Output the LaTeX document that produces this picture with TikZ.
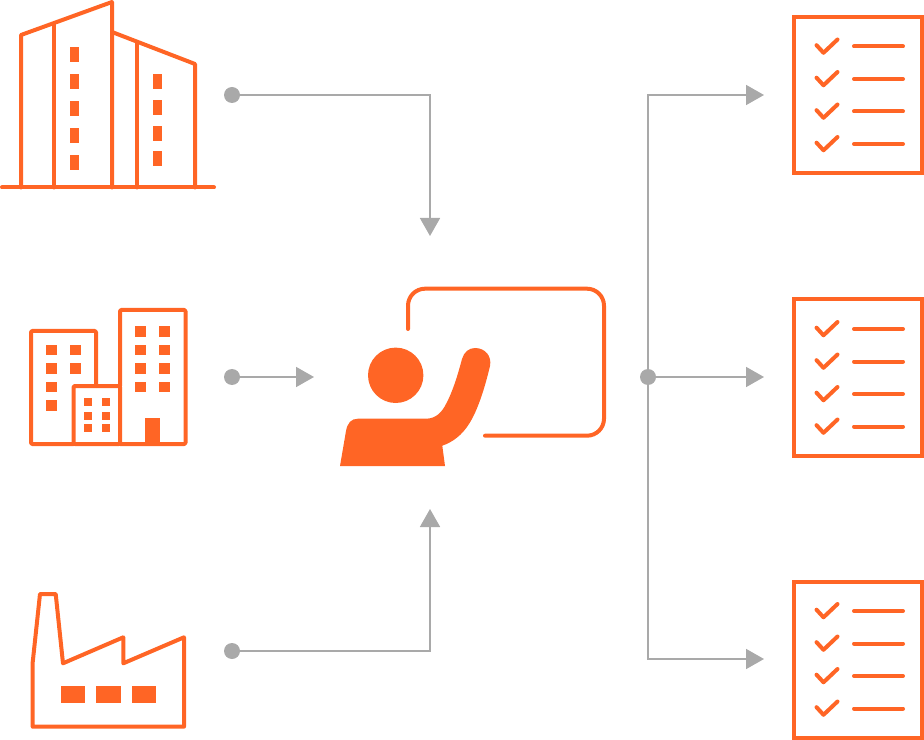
\documentclass[tikz,border=0pt]{standalone}
\usetikzlibrary{arrows.meta}
\definecolor{iconorange}{HTML}{FF6525}
\definecolor{flowgray}{HTML}{A9A9A9}
\tikzset{
	icon/.style={draw=iconorange,line width=0.12cm,line join=round,line cap=round},
	solid icon/.style={fill=iconorange,draw=none},
	flow/.style={draw=flowgray,line width=0.05cm,-{Triangle[width=0.6cm,length=0.54cm]},flowgray},
	flowdot/.style={circle,fill=flowgray,inner sep=0pt,minimum size=0.48cm},
	checklist/.pic={
		\draw[icon,line cap=butt,line join=miter] (794,-78) rectangle (922,78);
		\foreach \y in {-48.5,-16,16.5,49}{
			\draw[icon] (816.5,\y-1.3) -- (823.5,\y+6.3) -- (837.5,\y-7);
			\draw[icon] (854,\y) -- (903,\y);
		}
	}
}
\begin{document}
\begin{tikzpicture}[x=0.03cm,y=-0.03cm]
	\useasboundingbox (0,0) rectangle (924,740);
	\draw[icon] (2,187.5) -- (214,187.5);
	\draw[icon] (21,187.5) -- (21,35) -- (112,2) -- (112,187.5);
	\draw[icon] (54,24) -- (54,187.5);
	\draw[icon] (112,32) -- (195,64) -- (195,187.5);
	\draw[icon] (137,42) -- (137,187.5);
	\foreach \y in {47,74,101,128,155}
		\fill[solid icon] (70,\y) rectangle ++(8.5,15);
	\foreach \y in {74,100,126,151}
		\fill[solid icon] (153,\y) rectangle ++(8.5,15);
	\draw[icon,rounded corners=1pt] (73.5,444) -- (31,444) -- (31,331) -- (96,331) -- (96,386);
	\draw[icon,rounded corners=1pt] (120,386) -- (120,310) -- (185.5,310) -- (185.5,444) -- (120,444);
	\draw[icon,rounded corners=1pt] (73.5,386) rectangle (120,444);
	\foreach \x/\y in {46/344.7,70/344.7,46/363,70/363,46/381.7,46/400,135.3/326,159.3/326,135.3/344.7,159.3/344.7,135.3/363,159.3/363,135.3/381.7,159.3/381.7}
		\fill[solid icon] (\x,\y) rectangle ++(10.7,10.7);
	\foreach \x in {84,101.7}
		\foreach \y in {398.3,411.5,424.3}
			\fill[solid icon] (\x,\y) rectangle ++(8,8);
	\fill[solid icon] (145.3,418.3) rectangle (160,444);
	\draw[icon] (32.7,726.7) -- (32.7,662.3) -- (40,594) -- (55.7,594) -- (63,663.3) -- (123.3,637.3) -- (123.3,663.3) -- (184,637.3) -- (184,726.7) -- cycle;
	\foreach \x in {60.7,96.3,132}
		\fill[solid icon] (\x,685.7) rectangle ++(24.4,17.6);
	\draw[icon,rounded corners=0.51cm] (408,329) -- (408,288.7) -- (604,288.7) -- (604,435.7) -- (485,435.7);
	\fill[solid icon] (395.7,375.3) circle (27.7);
	\fill[solid icon] (340,466) -- (346,431) .. controls (347.5,423) and (351,418.7) .. (358,418.7) -- (426,418.7) .. controls (436,418.7) and (442,412) .. (446,404) .. controls (453,391) and (458,374) .. (462,359) .. controls (464,352) and (469,348) .. (475,348) .. controls (485,348) and (492,356) .. (490,366) .. controls (485,387) and (478,410) .. (469,424) .. controls (462,435) and (453,442) .. (442.3,445.7) -- (445,466) -- cycle;
	\node[flowdot] (dotTower) at (232,95) {};
	\node[flowdot] (dotOffice) at (232,377) {};
	\node[flowdot] (dotFactory) at (232,651) {};
	\node[flowdot] (dotHub) at (648,377) {};
	\coordinate (tipTop) at (430,236);
	\coordinate (tipLeft) at (314,377);
	\coordinate (tipBottom) at (430,509);
	\coordinate (tipListA) at (764,95);
	\coordinate (tipListB) at (764,377);
	\coordinate (tipListC) at (764,659);
	\draw[flow] (dotTower) -| (tipTop);
	\draw[flow] (dotOffice) -- (tipLeft);
	\draw[flow] (dotFactory) -| (tipBottom);
	\draw[flow] (dotHub) |- (tipListA);
	\draw[flow] (dotHub) -- (tipListB);
	\draw[flow] (dotHub) |- (tipListC);
	\foreach \y in {95,377.5,659.5}
		\pic at (0,\y) {checklist};
\end{tikzpicture}
\end{document}
